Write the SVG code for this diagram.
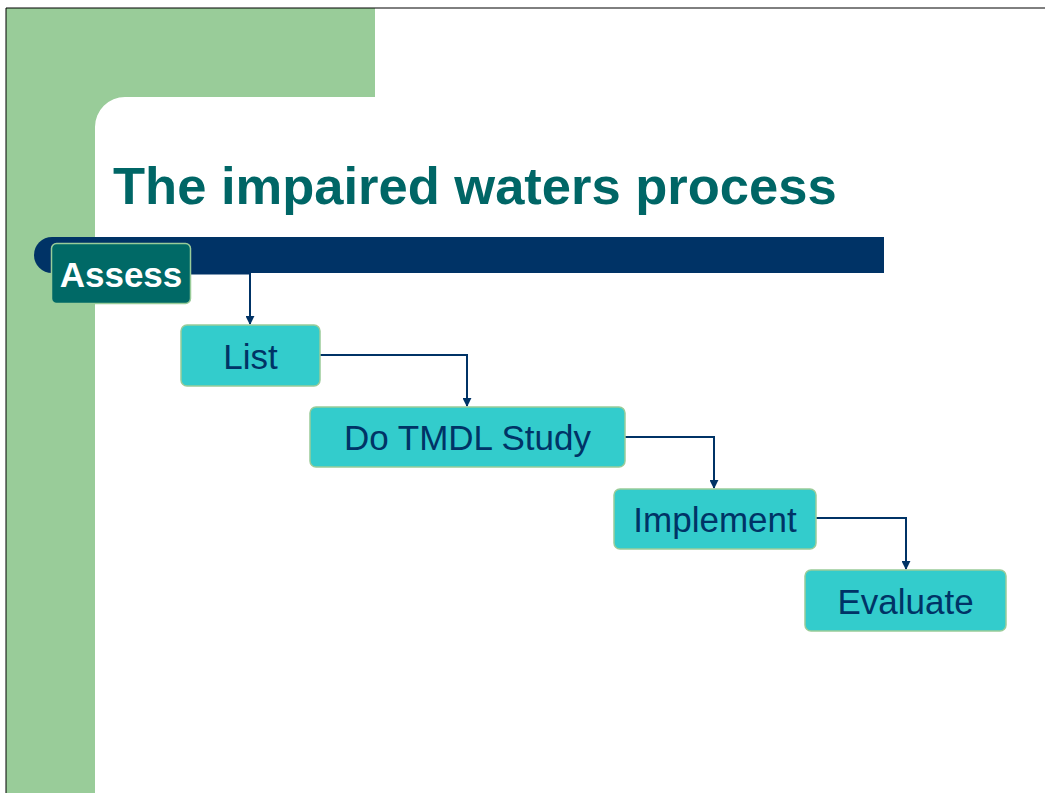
<svg xmlns="http://www.w3.org/2000/svg" width="1045" height="793" viewBox="0 0 1045 793">
  <defs>
    <marker id="arrow" viewBox="0 0 10 10" refX="9" refY="5" markerWidth="4.5" markerHeight="4.5" orient="auto" markerUnits="strokeWidth">
      <path d="M0,0 L10,5 L0,10 z" fill="#003366"/>
    </marker>
  </defs>
  <style>
    .step rect { fill: #33cccc; stroke: #99cc99; stroke-width: 1.5; }
    .step text { font-family: "Liberation Sans", Arial, sans-serif; font-size: 35px; fill: #003366; text-anchor: middle; }
    .conn { fill: none; stroke: #003366; stroke-width: 2; marker-end: url(#arrow); }
  </style>
  <!-- page background -->
  <rect x="0" y="0" width="1045" height="793" fill="#ffffff"/>
  <!-- green frame band -->
  <path d="M6,8 H375 V97 H125 A30,30 0 0 0 95,127 V793 H6 Z" fill="#99cc99"/>
  <!-- frame edge -->
  <path d="M6,793 V8 H1045" fill="none" stroke="#000000" stroke-width="1"/>
  <!-- title -->
  <text x="113" y="204" font-family="Liberation Sans, Arial, sans-serif" font-weight="bold" font-size="52.5" fill="#006666">The impaired waters process</text>
  <!-- title rule bar -->
  <path d="M52,237 H884 V273 H52 A18,18 0 0 1 52,237 Z" fill="#003366"/>
  <!-- connectors -->
  <g id="connectors">
    <path class="conn" d="M191,273.5 H250 V324"/>
    <path class="conn" d="M320,355 H467 V406"/>
    <path class="conn" d="M625,437 H714 V488"/>
    <path class="conn" d="M816,518 H906 V569"/>
  </g>
  <!-- nodes -->
  <g id="assess">
    <rect x="51.5" y="243.5" width="139" height="60" rx="5" fill="#006966" stroke="#99cc99" stroke-width="1.5"/>
    <text x="121" y="287" font-family="Liberation Sans, Arial, sans-serif" font-weight="bold" font-size="35" fill="#ffffff" text-anchor="middle">Assess</text>
  </g>
  <g id="list" class="step">
    <rect x="181" y="325" width="139" height="61" rx="6"/>
    <text x="250.5" y="369">List</text>
  </g>
  <g id="tmdl" class="step">
    <rect x="310" y="407" width="315" height="60" rx="6"/>
    <text x="467.5" y="450">Do TMDL Study</text>
  </g>
  <g id="implement" class="step">
    <rect x="614" y="489" width="202" height="60" rx="6"/>
    <text x="715" y="532">Implement</text>
  </g>
  <g id="evaluate" class="step">
    <rect x="805" y="570" width="201" height="61" rx="6"/>
    <text x="905.5" y="614">Evaluate</text>
  </g>
</svg>
